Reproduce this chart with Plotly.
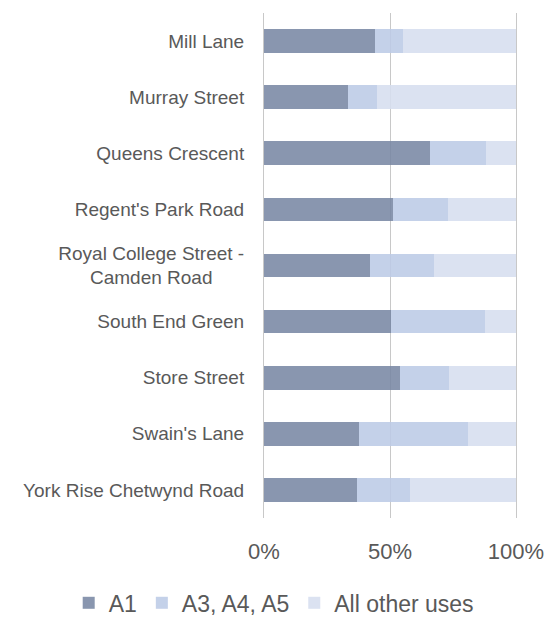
import plotly.graph_objects as go

categories = ["Mill Lane", "Murray Street", "Queens Crescent", "Regent's Park Road",
              "Royal College Street -<br>Camden Road", "South End Green", "Store Street",
              "Swain's Lane", "York Rise Chetwynd Road"]
tick_labels = ["Mill Lane", "Murray Street", "Queens Crescent", "Regent's Park Road",
               "Royal College Street -<br>Camden Road\u00a0\u00a0\u00a0\u00a0\u00a0\u00a0",
               "South End Green", "Store Street", "Swain's Lane", "York Rise Chetwynd Road"]
a1 = [44, 33.5, 66, 51, 42, 50.5, 54, 37.5, 37]
a3_a4_a5 = [11, 11.5, 22, 22, 25.5, 37, 19.5, 43.5, 21]
other = [45, 55, 12, 27, 32.5, 12.5, 26.5, 19, 42]
series_names = ["A1", "A3, A4, A5", "All other uses"]
x_ticks = [0, 50, 100]
x_tick_text = ["0%", "50%", "100%"]

colors = ["rgb(121,136,164)", "rgb(189,203,231)", "rgb(215,223,240)"]

fig = go.Figure()
for name, vals, col in zip(series_names, [a1, a3_a4_a5, other], colors):
    fig.add_trace(go.Bar(
        y=categories, x=vals, name=name, orientation="h",
        marker=dict(color=col, line=dict(width=0)), opacity=0.88,
    ))

fig.update_layout(
    barmode="stack",
    bargap=0.58,
    width=550, height=617,
    margin=dict(l=264, r=34, t=13, b=99, autoexpand=False),
    paper_bgcolor="white", plot_bgcolor="white",
    font=dict(family="Liberation Sans, Arial, sans-serif", color="#595959"),
    showlegend=True,
    legend=dict(orientation="h", xref="paper", yref="paper",
                x=-0.775, xanchor="left", y=-0.168, yanchor="middle",
                font=dict(size=23, color="#595959"), itemwidth=30,
                traceorder="normal", bgcolor="rgba(0,0,0,0)"),
    xaxis=dict(range=[0, 100], tickvals=x_ticks, ticktext=x_tick_text,
               showgrid=True, gridcolor="#C8C8C8", gridwidth=1,
               zeroline=False, showline=False, automargin=False,
               ticks="outside", ticklen=14, tickcolor="rgba(0,0,0,0)",
               tickfont=dict(size=22, color="#595959")),
    yaxis=dict(categoryorder="array", categoryarray=categories,
               autorange="reversed", tickvals=categories, ticktext=tick_labels,
               showgrid=False, zeroline=False, automargin=False,
               showline=True, mirror=True, linecolor="#C8C8C8", linewidth=1,
               layer="above traces",
               ticks="outside", ticklen=15, tickcolor="rgba(0,0,0,0)",
               tickfont=dict(size=19, color="#595959")),
)

fig.write_html("out.html", config={"displayModeBar": False},
               post_script="document.body.style.margin='0';")
